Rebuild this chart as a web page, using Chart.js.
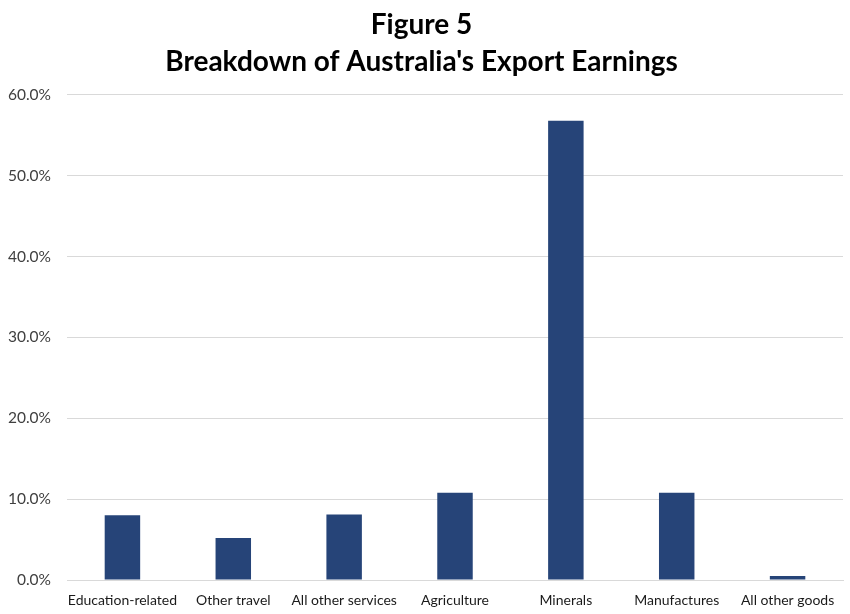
<!DOCTYPE html>
<html>
<head>
<meta charset="utf-8">
<script src="https://cdn.jsdelivr.net/npm/chart.js@4"></script>
<style>
html,body{margin:0;padding:0;background:#fff;}
#wrap{width:850px;height:614px;}
</style>
</head>
<body>
<div id="wrap"><canvas id="c" width="850" height="614"></canvas></div>
<script>
const categories = ["Education-related", "Other travel", "All other services", "Agriculture", "Minerals", "Manufactures", "All other goods"];
const shares = [8.0, 5.2, 8.1, 10.8, 56.8, 10.8, 0.5];
const titleLines = ["Figure 5", "Breakdown of Australia's Export Earnings"];

new Chart(document.getElementById('c'), {
  type: 'bar',
  data: {
    labels: categories,
    datasets: [{
      data: shares,
      backgroundColor: '#264478',
      borderWidth: 0,
      barPercentage: 0.32,
      categoryPercentage: 1.0
    }]
  },
  options: {
    responsive: false,
    animation: false,
    devicePixelRatio: 1,
    layout: { padding: { left: 0, right: 7, top: 0, bottom: 0 } },
    plugins: {
      legend: { display: false },
      tooltip: { enabled: false },
      title: {
        display: true,
        text: titleLines,
        color: '#000',
        font: { family: 'Lato', size: 28, weight: 'bold', lineHeight: 1.3 },
        padding: { top: 7, bottom: 15 }
      }
    },
    scales: {
      x: {
        grid: { display: false, drawTicks: false },
        border: { display: true, color: '#d9d9d9', width: 1 },
        ticks: { color: '#1a1a1a', font: { family: 'Lato', size: 14 }, padding: 12, maxRotation: 0, autoSkip: false },
        afterFit: (s) => { s.height = 34; }
      },
      y: {
        min: 0, max: 60,
        ticks: { stepSize: 10, color: '#404040', font: { family: 'Lato', size: 15.5 }, padding: 16,
          callback: (v) => v.toFixed(1) + '%' },
        grid: { color: '#d9d9d9', drawTicks: false },
        border: { display: false },
        afterFit: (s) => { s.width = 67; }
      }
    }
  }
});
</script>
</body>
</html>
